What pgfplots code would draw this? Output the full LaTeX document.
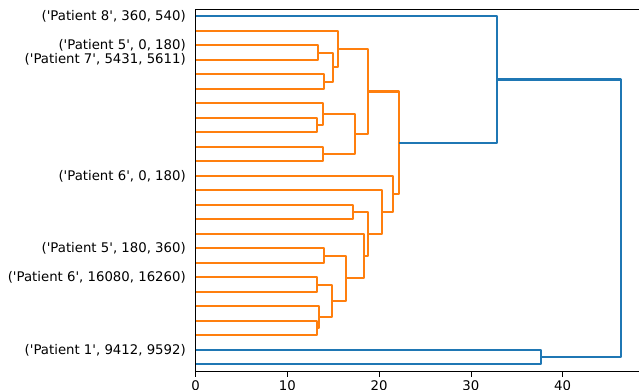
\documentclass[border=0pt]{standalone}
\usepackage{fontspec}
\setmainfont{DejaVu Sans}
\usepackage{pgfplots}
\pgfplotsset{compat=1.18}
\definecolor{mplblue}{HTML}{1F77B4}
\definecolor{mplorange}{HTML}{FF7F0E}
\newcommand{\q}{\textquotesingle}
\begin{document}
\begin{tikzpicture}
\begin{axis}[
  at={(0,0)}, anchor=south west,
  scale only axis,
  width=319.2bp, height=261.1bp,
  xmin=0, xmax=48.32, ymin=0, ymax=250,
  axis y line*=left,
  axis line style={line width=0.6pt},
  xtick={0,10,20,30,40},
  xtick align=outside,
  xtick pos=bottom,
  major tick length=3.5bp,
  tick style={black, line width=0.6pt},
  ytick={245,225,215,135,85,65,15},
  yticklabels={
    {(\q Patient 8\q, 360, 540)},
    {(\q Patient 5\q, 0, 180)},
    {(\q Patient 7\q, 5431, 5611)},
    {(\q Patient 6\q, 0, 180)},
    {(\q Patient 5\q, 180, 360)},
    {(\q Patient 6\q, 16080, 16260)},
    {(\q Patient 1\q, 9412, 9592)}},
  ytick style={draw=none},
  yticklabel style={xshift=-3.6bp, font=\fontsize{9.6}{11.5}\selectfont},
  xticklabel style={font=\fontsize{9.6}{11.5}\selectfont, yshift=0.5bp},
  /pgf/number format/assume math mode=true,
  every axis plot/.append style={line width=1.5pt, line join=round},
]
% orange cluster
\addplot[mplorange] coordinates {(0,225) (13.34,225) (13.34,215) (0,215)};
\addplot[mplorange] coordinates {(0,205) (13.99,205) (13.99,195) (0,195)};
\addplot[mplorange] coordinates {(13.34,220) (15.0,220) (15.0,200) (13.99,200)};
\addplot[mplorange] coordinates {(0,235) (15.49,235) (15.49,210) (15.0,210)};
\addplot[mplorange] coordinates {(0,175) (13.2,175) (13.2,165) (0,165)};
\addplot[mplorange] coordinates {(0,185) (13.85,185) (13.85,170) (13.2,170)};
\addplot[mplorange] coordinates {(0,155) (13.92,155) (13.92,145) (0,145)};
\addplot[mplorange] coordinates {(13.85,177.5) (17.34,177.5) (17.34,150) (13.92,150)};
\addplot[mplorange] coordinates {(15.49,222.5) (18.76,222.5) (18.76,163.75) (17.34,163.75)};
\addplot[mplorange] coordinates {(0,115) (17.19,115) (17.19,105) (0,105)};
\addplot[mplorange] coordinates {(0,85) (14.02,85) (14.02,75) (0,75)};
\addplot[mplorange] coordinates {(0,65) (13.26,65) (13.26,55) (0,55)};
\addplot[mplorange] coordinates {(0,35) (13.23,35) (13.23,25) (0,25)};
\addplot[mplorange] coordinates {(0,45) (13.48,45) (13.48,30) (13.23,30)};
\addplot[mplorange] coordinates {(13.26,60) (14.9,60) (14.9,37.5) (13.48,37.5)};
\addplot[mplorange] coordinates {(14.02,80) (16.39,80) (16.39,48.75) (14.9,48.75)};
\addplot[mplorange] coordinates {(0,95) (18.35,95) (18.35,64.375) (16.39,64.375)};
\addplot[mplorange] coordinates {(17.19,110) (18.82,110) (18.82,79.6875) (18.35,79.6875)};
\addplot[mplorange] coordinates {(0,125) (20.28,125) (20.28,94.84375) (18.82,94.84375)};
\addplot[mplorange] coordinates {(0,135) (21.54,135) (21.54,109.921875) (20.28,109.921875)};
\addplot[mplorange] coordinates {(18.76,193.125) (22.17,193.125) (22.17,122.4609) (21.54,122.4609)};
% blue links
\addplot[mplblue] coordinates {(0,245) (32.83,245) (32.83,157.793) (22.17,157.793)};
\addplot[mplblue] coordinates {(0,15) (37.67,15) (37.67,5) (0,5)};
\addplot[mplblue] coordinates {(32.83,201.396) (46.32,201.396) (46.32,10) (37.67,10)};
\end{axis}
\pgfresetboundingbox
\useasboundingbox (-140.9bp,-12.5bp) rectangle (319.2bp,267.6bp);
\end{tikzpicture}
\end{document}
